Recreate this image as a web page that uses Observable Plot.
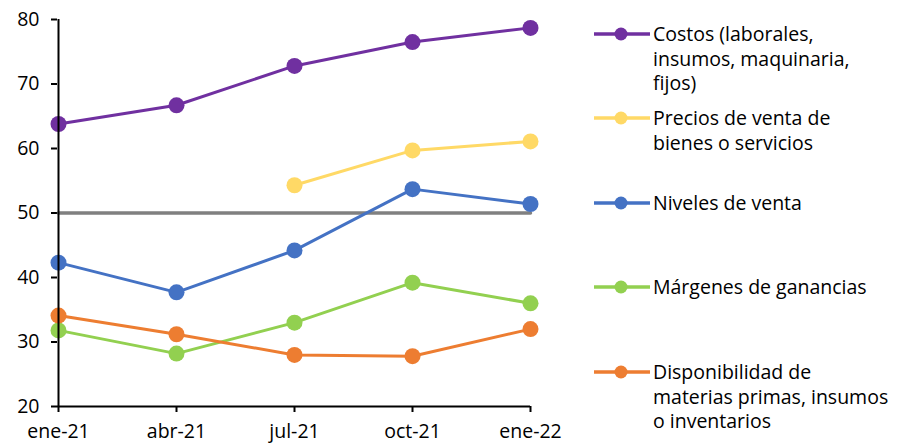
<!DOCTYPE html>
<html>
<head>
<meta charset="utf-8">
<script src="https://cdn.jsdelivr.net/npm/d3@7"></script>
<script src="https://cdn.jsdelivr.net/npm/@observablehq/plot@0.6"></script>
<style>
  body { margin: 0; background: #fff; font-family: "Open Sans", sans-serif; }
  #chart { position: relative; width: 900px; height: 447px; }
  #chart svg [aria-label="x-axis tick"] path,
  #chart svg [aria-label="y-axis tick"] path { stroke-width: 2; }
  .legend { position: absolute; left: 594px; top: 0; }
  .item { position: absolute; left: 0; display: flex; align-items: flex-start; }
  .item svg { flex: none; }
  .item span { margin-left: 3px; font-size: 19.5px; line-height: 24.5px; color: #000; white-space: pre; }
</style>
</head>
<body>
<div id="chart"></div>
<script>
// Quarterly survey periods
const periods = ["ene-21", "abr-21", "jul-21", "oct-21", "ene-22"];

// Series values per period (null = not surveyed)
const costos = [63.8, 66.7, 72.8, 76.5, 78.7];
const precios = [null, null, 54.3, 59.7, 61.1];
const niveles = [42.3, 37.7, 44.2, 53.7, 51.4];
const margenes = [31.8, 28.2, 33.0, 39.2, 36.0];
const disponibilidad = [34.1, 31.2, 28.0, 27.8, 32.0];

// Neutral threshold
const umbral = 50;

const yTicks = [20, 30, 40, 50, 60, 70, 80];

const seriesNames = [
  "Costos (laborales,\ninsumos, maquinaria,\nfijos)",
  "Precios de venta de\nbienes o servicios",
  "Niveles de venta",
  "Márgenes de ganancias",
  "Disponibilidad de\nmaterias primas, insumos\no inventarios"
];
const seriesValues = [costos, precios, niveles, margenes, disponibilidad];
const seriesColors = ["#7030A0", "#FFD966", "#4472C4", "#92D050", "#ED7D31"];

const series = seriesNames.map((name, i) => ({
  name,
  color: seriesColors[i],
  rows: periods
    .map((p, j) => ({ period: p, value: seriesValues[i][j] }))
    .filter(d => d.value != null)
}));

const marks = [
  Plot.line(periods, { x: d => d, y: () => umbral, stroke: "#808080", strokeWidth: 3.5 })
];
for (const s of series) {
  marks.push(Plot.line(s.rows, { x: "period", y: "value", stroke: s.color, strokeWidth: 3 }));
  marks.push(Plot.dot(s.rows, { x: "period", y: "value", fill: s.color, r: 8 }));
}
marks.push(Plot.ruleX([periods[0]], { stroke: "#000", strokeWidth: 2 }));
marks.push(Plot.ruleY([yTicks[0]], { stroke: "#000", strokeWidth: 2 }));

const chart = Plot.plot({
  width: 900,
  height: 447,
  marginLeft: 57,
  marginRight: 370,
  marginTop: 19,
  marginBottom: 41,
  style: { fontFamily: "Open Sans", fontSize: "19.5px", color: "#000", background: "#fff" },
  x: { type: "point", domain: periods, padding: 0, tickSize: 6, tickPadding: 12, label: null },
  y: { domain: [20, 80], ticks: yTicks, tickSize: 6, tickPadding: 12, label: null },
  marks
});
const host = document.getElementById("chart");
host.appendChild(chart);

// Legend on the right
const legendY = [34, 118, 203, 287, 372];
const legend = document.createElement("div");
legend.className = "legend";
series.forEach((s, i) => {
  const item = document.createElement("div");
  item.className = "item";
  item.style.top = (legendY[i] - 12) + "px";
  item.innerHTML =
    `<svg width="56" height="24"><line x1="0" x2="56" y1="12" y2="12" stroke="${s.color}" stroke-width="3.5"/>` +
    `<circle cx="27" cy="12" r="6.5" fill="${s.color}"/></svg><span></span>`;
  item.querySelector("span").textContent = s.name;
  legend.appendChild(item);
});
host.appendChild(legend);
</script>
</body>
</html>
